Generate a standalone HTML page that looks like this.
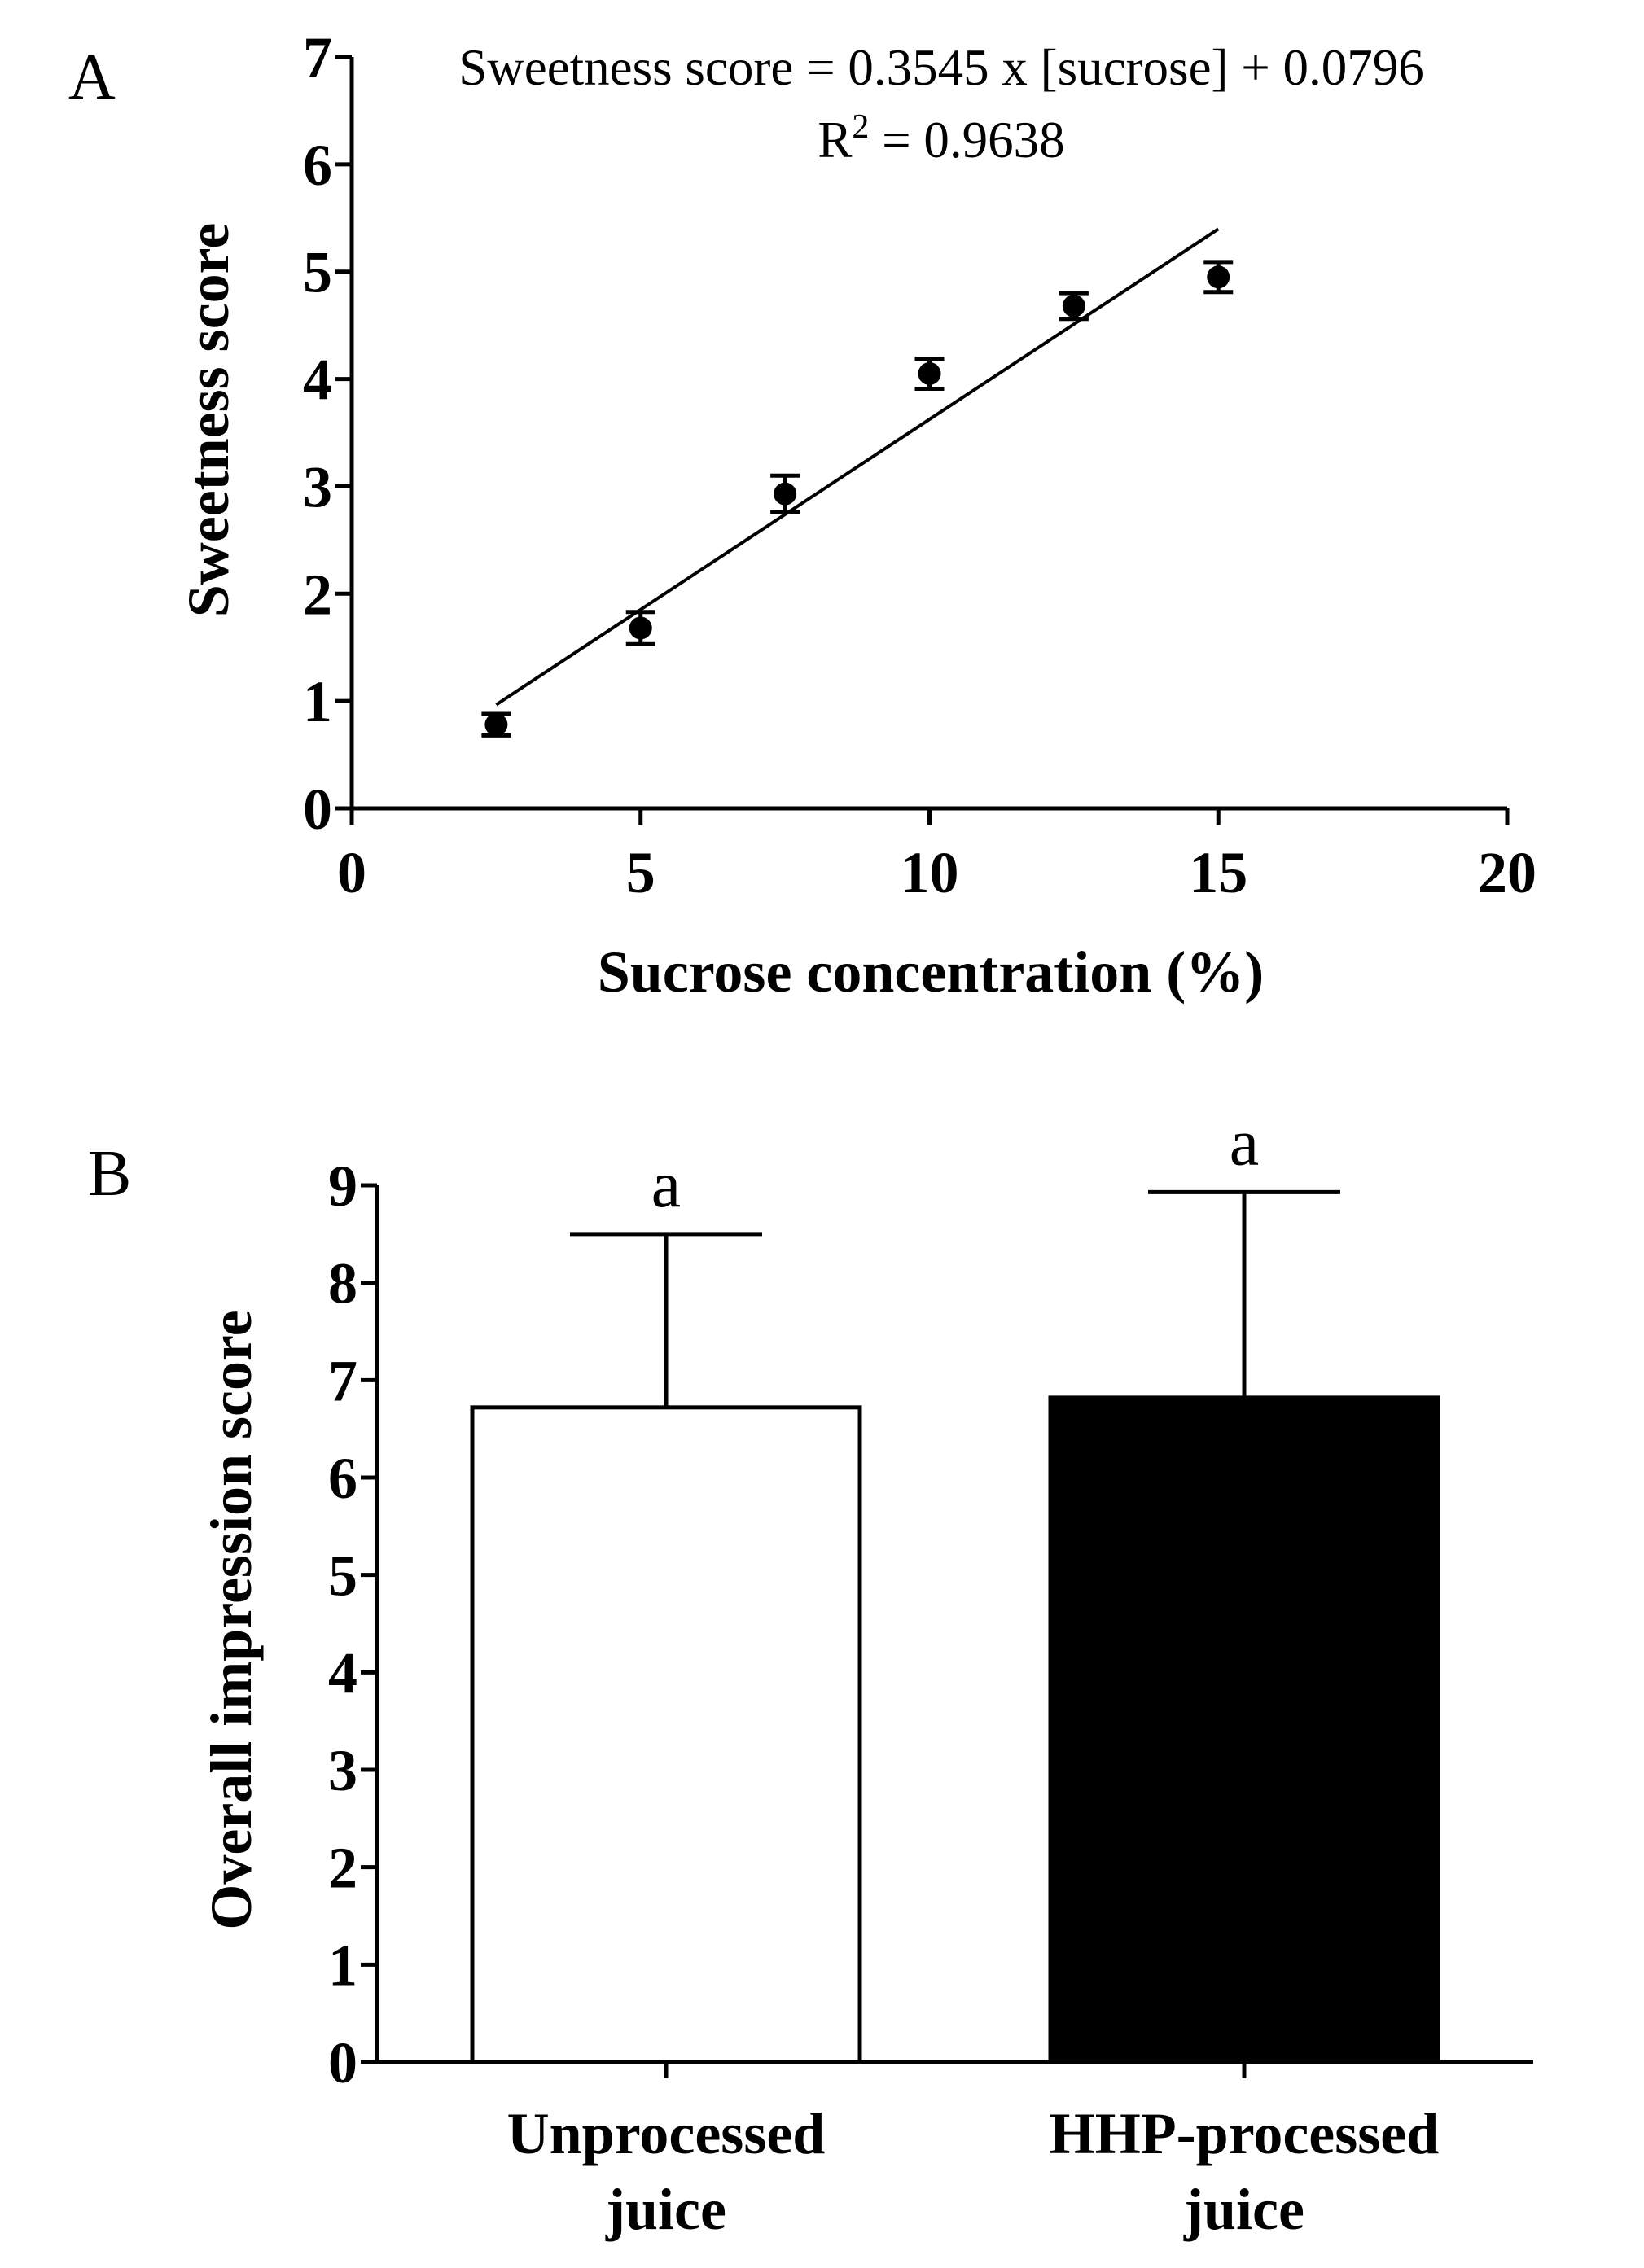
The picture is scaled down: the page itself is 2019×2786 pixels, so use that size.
<!DOCTYPE html>
<html><head><meta charset="utf-8"><style>
html,body{margin:0;padding:0;background:#fff;}
svg{display:block;}
text{font-family:"Liberation Serif",serif;fill:#000;}
.b{font-weight:bold;}
</style></head><body>
<svg id="fig" width="2019" height="2786" viewBox="0 0 2019 2786" xmlns="http://www.w3.org/2000/svg">
<g id="pa"></g>
<g id="pb"></g>
</svg>
<script>
const NS='http://www.w3.org/2000/svg';
// Panel A data
const sucrose=[2.5,5,7.5,10,12.5,15];
const sweetness=[0.78,1.68,2.93,4.05,4.68,4.95];
const sweetErr=[0.1,0.15,0.17,0.14,0.12,0.14];
const aXTicks=[0,5,10,15,20];
const aYTicks=[0,1,2,3,4,5,6,7];
const slope=0.3545, intercept=0.0796;
// Panel B data
const categories=[["Unprocessed","juice"],["HHP-processed","juice"]];
const impression=[6.72,6.82];
const impressionErr=[1.78,2.11];
const letters=["a","a"];
const bYTicks=[0,1,2,3,4,5,6,7,8,9];

function el(parent,tag,attrs,txt){const e=document.createElementNS(NS,tag);for(const k in attrs)e.setAttribute(k,attrs[k]);if(txt!==undefined)e.textContent=txt;parent.appendChild(e);return e;}
const LW=5;

// ---- Panel A ----
const pa=document.getElementById('pa');
const ax0=432,ax1=1851,ay0=993,ay1=70;
const xA=v=>ax0+(v-0)/(20-0)*(ax1-ax0);
const yA=v=>ay0-(v-0)/(7-0)*(ay0-ay1);
let e=el(pa,'line',{x1:ax0,y1:ay0,x2:ax1,y2:ay0,stroke:'#000','stroke-width':LW});

e=el(pa,'line',{x1:ax0,y1:ay0+2,x2:ax0,y2:ay1,stroke:'#000','stroke-width':LW});

aXTicks.forEach(t=>{
  let l=el(pa,'line',{x1:xA(t),y1:ay0,x2:xA(t),y2:ay0+20,stroke:'#000','stroke-width':LW});
  
  let tx=el(pa,'text',{x:xA(t),y:ay0+103,'font-size':72,'text-anchor':'middle',class:'b'},t);
  
});
aYTicks.forEach(t=>{
  let l=el(pa,'line',{x1:ax0-20,y1:yA(t),x2:ax0,y2:yA(t),stroke:'#000','stroke-width':LW});
  
  let tx=el(pa,'text',{x:ax0-24,y:yA(t)+25,'font-size':72,'text-anchor':'end',class:'b'},t);
  
});
e=el(pa,'line',{x1:xA(sucrose[0]),y1:yA(slope*sucrose[0]+intercept),x2:xA(sucrose[5]),y2:yA(slope*sucrose[5]+intercept),stroke:'#000','stroke-width':4});

sucrose.forEach((s,i)=>{
  const cx=xA(s),cy=yA(sweetness[i]),top=yA(sweetness[i]+sweetErr[i]),bot=yA(sweetness[i]-sweetErr[i]);
  let g=el(pa,'g',{});
  
  el(g,'line',{x1:cx,y1:top,x2:cx,y2:bot,stroke:'#000','stroke-width':LW});
  el(g,'line',{x1:cx-18,y1:top,x2:cx+18,y2:top,stroke:'#000','stroke-width':LW});
  el(g,'line',{x1:cx-18,y1:bot,x2:cx+18,y2:bot,stroke:'#000','stroke-width':LW});
  el(g,'circle',{cx:cx,cy:cy,r:14,fill:'#000'});
});
e=el(pa,'text',{x:1156,y:104,'font-size':63,'text-anchor':'middle'},'Sweetness score = 0.3545 x [sucrose] + 0.0796');

e=el(pa,'text',{x:1156,y:193,'font-size':63,'text-anchor':'middle'});
e.innerHTML='R<tspan dy="-24" font-size="42">2</tspan><tspan dy="24"> = 0.9638</tspan>';

e=el(pa,'text',{x:1143,y:1218,'font-size':72,'text-anchor':'middle',class:'b'},'Sucrose concentration (%)');

e=el(pa,'text',{x:0,y:0,'font-size':72,'text-anchor':'middle',class:'b',transform:'translate(280,516) rotate(-90)'},'Sweetness score');

e=el(pa,'text',{x:84,y:121,'font-size':80},'A');


// ---- Panel B ----
const pb=document.getElementById('pb');
const bx0=463,bx1=1883,by0=2533,by1=1456;
const yB=v=>by0-(v-0)/(9-0)*(by0-by1);
const centers=[818,1528];const halfW=238;
e=el(pb,'line',{x1:bx0,y1:by0,x2:bx1,y2:by0,stroke:'#000','stroke-width':LW});

e=el(pb,'line',{x1:bx0,y1:by0+2,x2:bx0,y2:by1,stroke:'#000','stroke-width':LW});

bYTicks.forEach(t=>{
  let l=el(pb,'line',{x1:bx0-20,y1:yB(t),x2:bx0,y2:yB(t),stroke:'#000','stroke-width':LW});
  
  let tx=el(pb,'text',{x:bx0-24,y:yB(t)+25,'font-size':72,'text-anchor':'end',class:'b'},t);
  
});
impression.forEach((v,i)=>{
  const c=centers[i];
  let r=el(pb,'rect',{x:c-halfW,y:yB(v),width:2*halfW,height:by0-yB(v),fill:i?'#000':'#fff',stroke:'#000','stroke-width':LW});
  
  const top=yB(v+impressionErr[i]);
  let g=el(pb,'g',{});
  
  el(g,'line',{x1:c,y1:yB(v),x2:c,y2:top,stroke:'#000','stroke-width':LW});
  el(g,'line',{x1:c-118,y1:top,x2:c+118,y2:top,stroke:'#000','stroke-width':LW});
  let lt=el(pb,'text',{x:c,y:top-34,'font-size':82,'text-anchor':'middle'},letters[i]);
  
  let tk=el(pb,'line',{x1:c,y1:by0,x2:c,y2:by0+20,stroke:'#000','stroke-width':LW});
  
  let t1=el(pb,'text',{x:c,y:2645,'font-size':72,'text-anchor':'middle',class:'b'},categories[i][0]);
  
  let t2=el(pb,'text',{x:c,y:2738,'font-size':72,'text-anchor':'middle',class:'b'},categories[i][1]);
  
});
e=el(pb,'text',{x:0,y:0,'font-size':72,'text-anchor':'middle',class:'b',transform:'translate(308,1990) rotate(-90)'},'Overall impression score');

e=el(pb,'text',{x:108,y:1468,'font-size':80},'B');

</script>
</body></html>
